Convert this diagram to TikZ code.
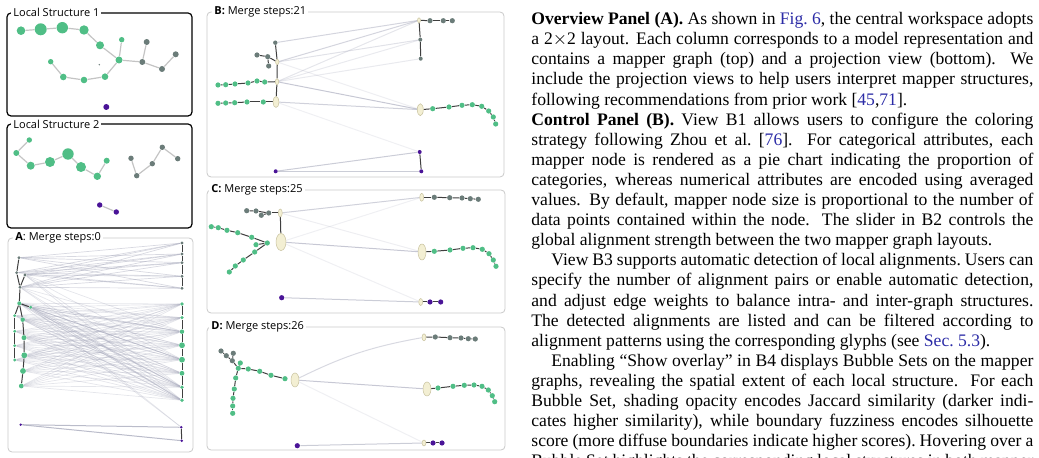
\documentclass[tikz,border=0pt]{standalone}
\usepackage{fontspec}
\setmainfont{Liberation Serif}
\newfontfamily\uifont{Open Sans}
\usepackage{tikz}
\usetikzlibrary{shapes.geometric, backgrounds}
\usepackage{xcolor}
\definecolor{mgreen}{HTML}{50BE86}
\definecolor{mgray}{HTML}{6B7C79}
\definecolor{mpurple}{HTML}{4A1497}
\definecolor{cream}{HTML}{F3EFD3}
\definecolor{creamline}{HTML}{C7C19E}
\definecolor{tiegray}{HTML}{3F3F3F}
\definecolor{linkgray}{HTML}{A9ABBD}
\definecolor{softgray}{HTML}{C4C4C4}
\definecolor{framegray}{HTML}{C9C9C9}
\definecolor{linkblue}{HTML}{2B2BA6}
\newcommand{\lnk}[1]{\textcolor{linkblue}{#1}}
\newcommand{\fullline}[1]{\hbox to \linewidth{#1}}
\newcommand{\shortline}[1]{\hbox{#1}}

\tikzset{
  gn/.style={circle, fill=mgreen, inner sep=0pt, minimum size=#1pt},
  kn/.style={circle, fill=mgray, inner sep=0pt, minimum size=#1pt},
  pn/.style={circle, fill=mpurple, inner sep=0pt, minimum size=#1pt},
  mn/.style 2 args={ellipse, fill=cream, draw=creamline, line width=0.25pt,
                    inner sep=0pt, minimum width=#1pt, minimum height=#2pt},
  gn/.default=2.6, kn/.default=2.6, pn/.default=2.6,
  soft/.style={draw=softgray, line width=0.6pt},
  tie/.style={draw=tiegray, line width=0.5pt},
  link/.style={draw=linkgray, line width=0.5pt, opacity=#1},
  link/.default=0.5,
  lsframe/.style={draw=black, line width=0.6pt, rounded corners=2pt},
  frame/.style={draw=framegray, line width=0.4pt, rounded corners=2pt},
  tag/.style={fill=white, inner sep=1pt, anchor=west,
              font=\uifont\fontsize{5.5pt}{6pt}\selectfont}
}

\begin{document}
\begin{tikzpicture}[x=0.5pt, y=-0.5pt]
  \useasboundingbox (0,0) rectangle (1039,458);

  % frames
  \draw[lsframe] (7,13) rectangle (192,116);
  \draw[lsframe] (7,124) rectangle (192,228);
  \draw[frame] (8,238) rectangle (193,452);
  \draw[frame] (207,12) rectangle (504,177);
  \draw[frame] (207,190) rectangle (505,313);
  \draw[frame] (207,327) rectangle (505,450);
  \node[tag] (lab1) at (11,12) {Local Structure 1};
  \node[tag] (lab2) at (11,124) {Local Structure 2};
  \node[tag] (labA) at (13,238) {\textbf{A}: Merge steps:0};
  \node[tag] (labB) at (212,12) {\textbf{B:} Merge steps:21};
  \node[tag] (labC) at (209,190) {\textbf{C:} Merge steps:25};
  \node[tag] (labD) at (209,327) {\textbf{D:} Merge steps:26};

  % local structure 1
  \foreach \n/\x/\y/\r in {1/21/30.7/4.3, 2/40.7/29.3/6, 3/62.3/27.7/5.7,
      4/84/30/4.7, 5/100/45.3/4, 6/121.7/39.7/2.7, 7/119/60/3.5,
      8/105/76.7/3.3, 9/84/80/3.3, 10/63.3/77/3.3, 11/50.7/61.7/2.7}
    \node[gn=\r] (s\n) at (\x,\y) {};
  \foreach \n/\x/\y in {12/142.3/62, 13/146.7/42, 14/162/69, 15/175.7/54.3}
    \node[kn=3] (s\n) at (\x,\y) {};
  \node[pn=3] (s16) at (106.3,107) {};
  \node[kn=0.8] (s17) at (99.3,64.7) {};
  \begin{scope}[on background layer]
    \foreach \u/\v in {s1/s2, s2/s3, s3/s4, s4/s5, s5/s7, s7/s6, s7/s8,
        s8/s9, s9/s10, s10/s11, s7/s12, s12/s13, s12/s14, s14/s15}
      \draw[soft] (\u) -- (\v);
  \end{scope}

  % local structure 2
  \foreach \n/\x/\y/\r in {1/29.3/140/2.7, 2/16.3/153/3, 3/30.7/165.7/4,
      4/50/162/5, 5/68/154/5.7, 6/81/167/5, 7/97.3/176.3/3.7, 8/106.7/160.7/3}
    \node[gn=\r] (t\n) at (\x,\y) {};
  \foreach \n/\x/\y in {9/131/158.3, 10/136.7/175.7, 11/152.3/163.7,
      12/162.3/147.3, 13/177.7/158.7}
    \node[kn=2.7] (t\n) at (\x,\y) {};
  \node[pn=2.7] (t14) at (99.7,205) {};
  \node[pn=2.7] (t15) at (116.3,212) {};
  \begin{scope}[on background layer]
    \foreach \u/\v in {t1/t2, t2/t3, t3/t4, t4/t5, t5/t6, t6/t7, t7/t8,
        t9/t10, t10/t11, t11/t12, t12/t13, t14/t15}
      \draw[soft] (\u) -- (\v);
  \end{scope}

  % A: merge steps 0
  \foreach \n/\x/\y in {1/19/257.7, 2/16.7/272.7, 3/25/275, 4/20/287.3}
    \node[kn=1.6] (a\n) at (\x,\y) {};
  \foreach \n/\x/\y/\r in {5/19.3/303.3/2, 6/30.7/307.3/1.6, 7/14.7/315.7/1.6,
      8/22.7/319.7/2.2, 9/14.7/331.3/1.6, 10/24/337.7/2.5, 11/14.7/345.7/1.6,
      12/24.3/355.3/2.9, 13/14.7/360/1.6, 14/23/371/2.9, 15/21.3/386/2.4}
    \node[gn=\r] (a\n) at (\x,\y) {};
  \node[pn=1.3] (a16) at (20.7,424.7) {};
  \foreach \n/\y in {1/243, 2/254, 3/262.7, 4/276.3, 5/288.3}
    \node[kn=1.6] (r\n) at (182,\y) {};
  \foreach \n/\y/\r in {6/304/1.8, 7/317.7/1.8, 8/331.7/2.2, 9/345.3/2.9,
      10/359.7/2.9, 11/373.3/2.4, 12/387.3/1.8, 13/400.3/1.8}
    \node[gn=\r] (r\n) at (182,\y) {};
  \node[pn=1.4] (r14) at (181.3,427.3) {};
  \node[pn=1.4] (r15) at (181.7,440.7) {};
  \begin{scope}[on background layer]
    \foreach \i in {1,...,4}
      \foreach \j in {1,...,5}
        \draw[link=0.45, line width=0.35pt] (a\i) -- (r\j);
    \foreach \i in {5,...,15}
      \foreach \j in {6,...,13}
        \draw[link=0.3, line width=0.35pt] (a\i) -- (r\j);
    \foreach \i in {3,4,5,6}
      \foreach \j in {8,10,12,13}
        \draw[link=0.3, line width=0.35pt] (a\i) -- (r\j);
    \draw[link=0.3, line width=0.35pt] (a5) -- (r14);
    \draw[link=0.3, line width=0.35pt] (a6) -- (r14);
    \draw[link=0.8] (a16) -- (r14);
    \draw[link=0.8] (a16) -- (r15);
    \foreach \u/\v in {a1/a2, a2/a4, a3/a4, a4/a5, a5/a6, a5/a7, a7/a9,
        a9/a11, a11/a13, a5/a8, a8/a10, a10/a12, a12/a14, a14/a15,
        r1/r2, r2/r3, r3/r4, r4/r5, r6/r7, r7/r8, r8/r9, r9/r10, r10/r11,
        r11/r12, r12/r13, r14/r15}
      \draw[tie] (\u) -- (\v);
  \end{scope}

  % B: merge steps 21
  \node[kn=2.2] (bk1) at (275.3,42.7) {};
  \foreach \n/\x/\y in {2/257/55, 3/267.7/56.7, 4/268.7/66, 5/430/20.7,
      6/443.3/20.7, 7/452.3/20.7}
    \node[kn] (bk\n) at (\x,\y) {};
  \node[kn=2] (bk8) at (420.3,39.7) {};
  \node[kn=2] (bk9) at (420.7,58.7) {};
  \node[mn={1.7}{2.7}] (bm1) at (277.3,62) {};
  \node[mn={1.7}{3}] (bm2) at (277,81.7) {};
  \node[mn={3}{5.5}] (bm3) at (276,102) {};
  \node[mn={1.5}{2.5}] (bm4) at (419,20.3) {};
  \node[mn={3}{6}] (bm5) at (420.3,109.7) {};
  \foreach \n/\x/\y in {1/218/85, 2/225.7/84.7, 3/235/84, 4/248/83,
      5/257/81, 6/264.7/82, 7/218/103.3, 8/225.7/103, 9/234.7/102.7,
      10/247/102, 11/263.3/102, 12/432.7/108.7, 13/449/107, 14/462/105.3,
      15/472.3/104.7, 16/481.7/106.3, 17/488.7/111, 18/493.3/117,
      19/495.7/124}
    \node[gn] (bg\n) at (\x,\y) {};
  \node[pn=2] (bp1) at (275.7,171.3) {};
  \node[pn=2] (bp2) at (419.7,152) {};
  \node[pn=2] (bp3) at (421.3,171.3) {};
  \begin{scope}[on background layer]
    \foreach \u/\v/\o in {bk1/bm4/0.5, bm1/bm4/0.5, bm1/bk8/0.35,
        bm2/bm4/0.3, bm2/bk8/0.25, bm2/bk9/0.25, bm2/bm5/0.65, bm3/bm5/0.55,
        bm1/bm5/0.2, bm3/bp2/0.18, bp1/bp2/0.6, bp1/bp3/0.6}
      \draw[link=\o] (\u) -- (\v);
    \foreach \u/\v in {bk1/bm1, bm1/bm2, bm2/bm3, bk2/bk3, bk3/bm1, bk3/bk4,
        bg1/bg2, bg2/bg3, bg3/bg4, bg4/bg5, bg5/bg6, bg6/bm2,
        bg7/bg8, bg8/bg9, bg9/bg10, bg10/bg11, bg11/bm3,
        bm4/bk5, bk5/bk6, bk6/bk7, bm4/bk8, bk8/bk9,
        bm5/bg12, bg12/bg13, bg13/bg14, bg14/bg15, bg15/bg16, bg16/bg17,
        bg17/bg18, bg18/bg19, bp2/bp3}
      \draw[tie] (\u) -- (\v);
  \end{scope}

  % C: merge steps 25
  \foreach \n/\x/\y in {1/246.7/210.7, 2/256/211, 3/261.3/215.3, 4/268.7/213,
      5/434.3/197.3, 6/449.7/197.7, 7/462/198, 8/470.3/198.7, 9/478.3/199.3}
    \node[kn] (ck\n) at (\x,\y) {};
  \node[mn={2}{4}] (cm1) at (280.3,213) {};
  \node[mn={5}{8.5}] (cm2) at (281,242) {};
  \node[mn={2}{4}] (cm3) at (421.7,197.3) {};
  \node[mn={4}{8}] (cm4) at (422,252) {};
  \node[mn={2}{3.5}] (cm5) at (420.7,302) {};
  \foreach \n/\x/\y in {1/211.3/226.7, 2/218.3/227.7, 3/227/230.3,
      4/237.7/232.7, 5/251.7/237.3, 6/267.3/243, 7/256/244.7, 8/254.7/252,
      9/243.3/260, 10/235.3/266, 11/229.3/272, 12/434.3/251.3, 13/450/250,
      14/463/248.3, 15/473/247.7, 16/482.3/249.3, 17/489/253.7,
      18/493.3/260, 19/496/266.3}
    \node[gn] (cg\n) at (\x,\y) {};
  \node[pn] (cp1) at (281.7,297.7) {};
  \node[pn] (cp2) at (430,302) {};
  \node[pn] (cp3) at (440.7,302) {};
  \begin{scope}[on background layer]
    \foreach \u/\v/\o in {cm1/cm3/0.55, cm1/cm4/0.2, cm2/cm3/0.18,
        cm2/cm4/0.65, cm2/cm5/0.18, cp1/cm5/0.6}
      \draw[link=\o] (\u) -- (\v);
    \foreach \u/\v in {ck1/ck2, ck2/ck4, ck3/ck4, ck4/cm1, cm1/cm2,
        cg1/cg2, cg2/cg3, cg3/cg4, cg4/cg5, cg5/cg6, cg7/cg6, cg6/cg8,
        cg8/cg9, cg9/cg10, cg10/cg11, cm3/ck5, ck5/ck6, ck6/ck7, ck7/ck8,
        ck8/ck9, cm4/cg12, cg12/cg13, cg13/cg14, cg14/cg15, cg15/cg16,
        cg16/cg17, cg17/cg18, cg18/cg19, cm5/cp2, cp2/cp3}
      \draw[tie] (\u) -- (\v);
  \end{scope}

  % D: merge steps 26
  \foreach \n/\x/\y in {1/221/351, 2/226.3/355.7, 3/233.3/353.3,
      4/232.3/360.7, 5/435.3/337, 6/450/337.7, 7/461/338, 8/468.3/338.7,
      9/475.3/339}
    \node[kn] (dk\n) at (\x,\y) {};
  \node[mn={4}{7}] (dm1) at (295,380) {};
  \node[mn={2}{3.5}] (dm2) at (424,337.3) {};
  \node[mn={4}{7}] (dm3) at (427,389) {};
  \node[mn={2}{3}] (dm4) at (424,443) {};
  \foreach \n/\x/\y in {1/240.3/363, 2/238.3/368.3, 3/248.3/369,
      4/259.7/371.3, 5/271/375.3, 6/285/378.7, 7/235.7/378, 8/234.3/389,
      9/233/398.3, 10/232.7/406, 11/232.7/413.3, 12/438/388, 13/453/386.3,
      14/464.3/385.3, 15/474/385, 16/482/386.3, 17/488.3/390,
      18/492.3/395.7, 19/494.7/401.7}
    \node[gn] (dg\n) at (\x,\y) {};
  \node[pn] (dp1) at (297.3,445.7) {};
  \node[pn] (dp2) at (433,443) {};
  \node[pn] (dp3) at (442,443) {};
  \begin{scope}[on background layer]
    \draw[link=0.45] (dm1) to[bend left=8] (dm2);
    \foreach \u/\v/\o in {dm1/dm3/0.65, dm1/dm4/0.18, dp1/dm4/0.6}
      \draw[link=\o] (\u) -- (\v);
    \foreach \u/\v in {dk1/dk2, dk2/dk4, dk3/dk4, dk4/dg2, dg2/dg1,
        dg2/dg3, dg3/dg4, dg4/dg5, dg5/dg6, dg2/dg7, dg7/dg8, dg8/dg9,
        dg9/dg10, dg10/dg11, dm2/dk5, dk5/dk6, dk6/dk7, dk7/dk8, dk8/dk9,
        dm3/dg12, dg12/dg13, dg13/dg14, dg14/dg15, dg15/dg16, dg16/dg17,
        dg17/dg18, dg18/dg19, dm4/dp2, dp2/dp3}
      \draw[tie] (\u) -- (\v);
  \end{scope}

  % text column
  \node[anchor=base west, inner sep=0pt] (body) at (531,24.7) {%
    \begin{minipage}[t]{251pt}
      \fontsize{8.8pt}{10.05pt}\selectfont
      \fullline{\textbf{Overview Panel (A).} As shown in \lnk{Fig.~6}, the central workspace adopts}
      \fullline{a 2$\times$2 layout. Each column corresponds to a model representation and}
      \fullline{contains a mapper graph (top) and a projection view (bottom). We}
      \fullline{include the projection views to help users interpret mapper structures,}
      \shortline{following recommendations from prior work [\lnk{45},\lnk{71}].}
      \fullline{\textbf{Control Panel (B).} View B1 allows users to configure the coloring}
      \fullline{strategy following Zhou et al.\ [\lnk{76}]. For categorical attributes, each}
      \fullline{mapper node is rendered as a pie chart indicating the proportion of}
      \fullline{categories, whereas numerical attributes are encoded using averaged}
      \fullline{values. By default, mapper node size is proportional to the number of}
      \fullline{data points contained within the node. The slider in B2 controls the}
      \shortline{global alignment strength between the two mapper graph layouts.}
      \fullline{\frenchspacing\hspace*{10pt}View B3 supports automatic detection of local alignments. Users can}
      \fullline{specify the number of alignment pairs or enable automatic detection,}
      \fullline{and adjust edge weights to balance intra- and inter-graph structures.}
      \fullline{The detected alignments are listed and can be filtered according to}
      \shortline{alignment patterns using the corresponding glyphs (see \lnk{Sec.~5.3}).}
      \fullline{\hspace*{10pt}Enabling ``Show overlay'' in B4 displays Bubble Sets on the mapper}
      \fullline{graphs, revealing the spatial extent of each local structure. For each}
      \fullline{Bubble Set, shading opacity encodes Jaccard similarity (darker indi-}
      \fullline{cates higher similarity), while boundary fuzziness encodes silhouette}
      \fullline{\frenchspacing score (more diffuse boundaries indicate higher scores). Hovering over a}
      \fullline{Bubble Set highlights the corresponding local structures in both mapper}
    \end{minipage}};
\end{tikzpicture}
\end{document}
